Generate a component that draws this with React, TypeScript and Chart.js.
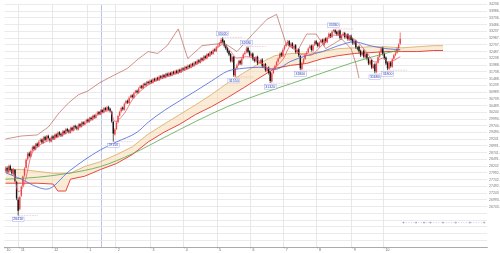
import React, { useEffect, useRef } from 'react';
import { Chart, registerables } from 'chart.js';
Chart.register(...registerables);

// ---- candle data (daily) ----
const OPEN = [
28080,28180,28020,28250,28120,27950,28100,27650,27000,26650,
27150,27520,27900,28180,28500,28720,28600,28830,28970,28860,
29080,28970,29170,29230,29100,29330,29200,29370,29260,29160,
29350,29240,29420,29310,29500,29440,29360,29540,29440,29620,
29570,29480,29670,29560,29740,29700,29600,29800,29700,29870,
29780,29890,29970,29880,30040,29960,30120,30030,30170,30250,
30160,30320,30230,30400,30310,30440,30370,30260,29880,29420,
29620,29870,30120,30270,30420,30330,30570,30670,30580,30800,
30870,30780,30970,31040,30960,31140,31220,31130,31300,31230,
31370,31300,31420,31330,31480,31400,31520,31430,31580,31500,
31620,31530,31670,31580,31700,31600,31740,31660,31780,31680,
31820,31730,31870,31800,31920,31850,31980,31900,32040,31960,
32100,32030,32170,32080,32240,32160,32320,32230,32400,32320,
32480,32400,32570,32500,32680,32730,32800,32950,32880,32720,
32630,32510,32400,32120,32300,31580,31880,32000,32150,32020,
32250,32400,32470,32630,32500,32320,32420,32250,32130,32300,
32080,32070,32200,31920,32030,31770,31900,31730,31380,31700,
31850,31970,32120,32250,32430,32320,32580,32700,32800,32880,
32700,32800,32630,32730,32450,32580,32320,31840,32080,32220,
32400,32470,32630,32710,32530,32750,32880,32800,32680,32840,
32930,32730,32980,32840,33030,33130,33030,33250,33280,33230,
33100,33270,32970,33100,33180,33000,33130,32930,33080,32950,
32780,32890,32630,32680,32520,32370,32530,32280,32400,32250,
32020,32180,31880,32020,31730,32080,32300,32470,32630,32420,
32270,32080,31850,32100,31930,32230,32370,32450,32620,32780
];
const HIGH = [
28220,28240,28290,28300,28160,28180,28140,27700,27080,27150,
27530,27900,28200,28530,28760,28780,28850,29000,29010,29100,
29120,29200,29270,29270,29350,29370,29400,29410,29300,29380,
29390,29450,29460,29530,29540,29480,29570,29580,29650,29660,
29610,29700,29710,29770,29780,29740,29830,29840,29900,29910,
29920,30000,30010,30070,30080,30150,30160,30200,30280,30290,
30350,30360,30430,30440,30470,30480,30410,30300,29920,29650,
29900,30150,30300,30450,30460,30600,30700,30710,30830,30900,
30910,31000,31070,31080,31170,31250,31260,31330,31340,31400,
31410,31450,31460,31510,31520,31550,31560,31610,31620,31650,
31660,31700,31710,31730,31740,31770,31780,31810,31820,31850,
31860,31900,31910,31950,31960,32010,32020,32070,32080,32130,
32140,32200,32210,32270,32280,32350,32360,32430,32440,32510,
32520,32600,32610,32700,32770,32840,33000,33020,32920,32760,
32670,32550,32440,32340,32330,31900,32040,32170,32190,32280,
32430,32510,32680,32670,32540,32450,32460,32290,32330,32340,
32150,32220,32240,32060,32070,31920,31940,31770,31730,31870,
32000,32150,32280,32450,32480,32610,32730,32840,32920,32920,
32830,32840,32750,32770,32600,32620,32360,32100,32250,32430,
32510,32650,32740,32750,32770,32910,32920,32840,32870,32960,
32970,33000,33020,33050,33200,33180,33280,33330,33320,33270,
33300,33310,33120,33210,33220,33150,33170,33100,33120,32990,
32920,32930,32680,32720,32560,32500,32570,32430,32440,32290,
32200,32220,32030,32060,32100,32330,32500,32660,32670,32460,
32310,32120,32130,32140,32250,32400,32480,32650,32800,33200
];
const LOW = [
28020,27990,27980,28040,27920,27900,27640,26980,26410,26600,
27100,27480,27850,28150,28450,28560,28570,28780,28820,28830,
28930,28940,29120,29060,29070,29170,29160,29230,29120,29130,
29210,29210,29280,29280,29370,29320,29330,29410,29410,29500,
29450,29450,29530,29530,29630,29570,29570,29670,29670,29750,
29750,29850,29850,29850,29930,29930,30000,30000,30130,30130,
30130,30200,30200,30280,30280,30300,30230,29850,29150,29380,
29580,29830,30080,30230,30300,30300,30530,30550,30550,30760,
30750,30750,30930,30930,30930,31100,31100,31100,31200,31200,
31270,31270,31300,31300,31370,31370,31400,31400,31470,31470,
31500,31500,31550,31550,31570,31570,31630,31630,31650,31650,
31700,31700,31770,31770,31820,31820,31870,31870,31930,31930,
32000,32000,32050,32050,32130,32130,32200,32200,32290,32290,
32370,32370,32470,32470,32630,32680,32760,32790,32640,32550,
32430,32320,32090,32080,31550,31540,31830,31960,31990,31980,
32200,32350,32430,32420,32290,32280,32160,32090,32090,31990,
32040,32030,31890,31880,31740,31730,31640,31320,31340,31660,
31800,31930,32080,32210,32290,32280,32530,32650,32750,32660,
32650,32590,32590,32420,32410,32290,31800,31800,32030,32180,
32350,32430,32580,32490,32490,32700,32720,32640,32640,32790,
32790,32690,32800,32800,32980,32990,32990,33200,33140,33070,
33060,32940,32930,33050,32970,32960,32890,32890,32860,32740,
32740,32590,32540,32440,32290,32330,32240,32240,32170,31990,
31980,31840,31840,31680,31700,32040,32260,32430,32340,32190,
31990,31800,31810,31890,31890,32190,32320,32410,32580,32740
];
const CLOSE = [
28150,28050,28230,28100,27980,28120,27700,27050,26590,27100,
27480,27860,28150,28480,28700,28620,28800,28950,28880,29050,
28990,29150,29210,29120,29300,29220,29350,29280,29180,29330,
29260,29400,29330,29480,29420,29380,29520,29460,29600,29550,
29500,29650,29580,29720,29680,29620,29780,29720,29850,29800,
29870,29950,29900,30020,29980,30100,30050,30150,30230,30180,
30300,30250,30380,30330,30420,30350,30280,29900,29450,29600,
29850,30100,30250,30400,30350,30550,30650,30600,30780,30850,
30800,30950,31020,30980,31120,31200,31150,31280,31250,31350,
31320,31400,31350,31460,31420,31500,31450,31560,31520,31600,
31550,31650,31600,31680,31620,31720,31680,31760,31700,31800,
31750,31850,31820,31900,31870,31960,31920,32020,31980,32080,
32050,32150,32100,32220,32180,32300,32250,32380,32340,32460,
32420,32550,32520,32650,32710,32780,32920,32850,32700,32610,
32490,32380,32150,32290,31620,31850,31980,32120,32050,32230,
32380,32450,32600,32480,32350,32400,32220,32150,32280,32050,
32100,32170,31950,32010,31800,31870,31700,31400,31680,31820,
31950,32100,32230,32400,32350,32560,32680,32780,32850,32720,
32780,32650,32700,32480,32550,32350,31870,32050,32200,32380,
32450,32600,32680,32550,32720,32850,32780,32700,32820,32900,
32850,32950,32860,33000,33150,33050,33230,33290,33200,33130,
33250,33000,33070,33150,33030,33100,32950,33050,32920,32800,
32870,32650,32600,32500,32350,32450,32300,32380,32230,32050,
32150,31900,31980,31760,32050,32280,32450,32600,32400,32250,
32050,31870,32080,31950,32200,32350,32420,32600,32750,32960
];

// ---- indicator lines (read at sparse days) ----
const TENKAN_X = [0,5,8,12,16,20,30,40,50,60,66,69,75,80,90,100,110,120,130,137,142,146,152,160,167,175,180,186,192,200,207,215,222,228,233,238,242,249];
const TENKAN_Y = [28100,28000,27300,27600,28600,28950,29250,29520,29800,30200,30300,29900,30200,30700,31250,31520,31720,32000,32400,32750,32500,32250,32300,32150,31850,32200,32700,32400,32350,32750,33100,33100,32850,32450,32100,32250,32100,32300];

const KIJUN_X = [0,10,20,26,40,50,60,70,83,90,100,110,120,130,140,150,160,170,180,190,200,210,220,230,240,249];
const KIJUN_Y = [28000,27760,27470,27390,28050,28480,28850,29140,29500,29870,30300,30670,31030,31400,31760,31870,31910,31830,32130,32340,32490,32710,32850,32710,32600,32560];

const UPPER_X = [0,10,20,27,34,40,46,52,59,65,71,77,84,90,96,102,109,115,124,134,137,146,156,165,171,177,184,190,196,202,212,218,221,223];
const UPPER_Y = [29250,29360,29400,29690,30230,30600,30890,31030,31320,31510,31690,31870,32230,32490,32420,32710,33330,32230,32710,32780,32850,32490,33140,33690,33870,32780,32490,33140,33140,32600,32960,32600,32050,31510];

const MA_X = [0,20,40,60,80,100,120,140,160,180,200,220,240,249];
const MA_Y = [27760,27830,27980,28230,28700,29300,29900,30450,30900,31300,31700,32100,32430,32560];

const CLOUD_X = [0,10,20,30,33,38,41,50,60,70,80,90,100,110,120,130,140,150,160,170,180,190,200,210,220,230,240,250,260,270,276];
const SENKOU_A = [28120,28120,28050,27980,27980,27980,27980,28230,28410,28670,28960,29430,29800,30160,30520,30900,31320,31690,32050,32340,32420,32420,32490,32600,32630,32670,32670,32630,32670,32710,32710];
const SENKOU_B = [27610,27610,27610,27580,27320,27320,27760,27870,28120,28340,28670,29140,29500,29800,30160,30450,30780,31140,31510,31870,31980,32050,32230,32340,32420,32450,32490,32490,32490,32530,32530];

const REF_X = [251,259,264,268,276,284,293,302];
const REF_LEVEL = 26150;

// ---- annotations ----
const LABEL_IDX = [8,68,137,144,152,167,186,207,233,241];
const LABEL_VAL = [26410,29150,33020,31550,32680,31320,31800,33330,31680,31800];
const LABEL_POS = ['below','below','above','below','above','below','below','above','below','below'];

// ---- axes ----
const MONTH_IDX = [-0.6,8.5,29.5,51.5,69.5,91.5,112.5,133.5,154.5,175.5,196.5,218.5,238.5];
const MONTH_LBL = ['10','11','12','1','2','3','4','5','6','7','8','9','10'];
const BLUE_LINE_IDX = 60.5;
const Y_MIN = 25245;
const Y_MAX = 34236;
const Y_STEP = 250;
const Y_LABEL_FLOOR = 26500;
const X_MIN = -0.625;
const X_MAX = 303.75;

const FONT = '"Liberation Sans", Arial, sans-serif';

const pts = (xs: number[], ys: number[]) => xs.map((x, i) => ({ x, y: ys[i] }));

const candlePlugin = {
  id: 'candles',
  afterDatasetDraw(chart: any, args: any) {
    if (args.index !== 4) return;
    const { ctx, chartArea } = chart;
    const x = chart.scales.x;
    const y = chart.scales.y;
    ctx.save();
    ctx.beginPath();
    ctx.rect(chartArea.left, chartArea.top, chartArea.width, chartArea.height);
    ctx.clip();
    for (let i = 0; i < CLOSE.length; i++) {
      const px = x.getPixelForValue(i);
      const o = y.getPixelForValue(OPEN[i]);
      const c = y.getPixelForValue(CLOSE[i]);
      const h = y.getPixelForValue(HIGH[i]);
      const l = y.getPixelForValue(LOW[i]);
      const up = CLOSE[i] >= OPEN[i];
      const col = up ? '#ec4545' : '#151515';
      ctx.strokeStyle = col;
      ctx.lineWidth = 0.7;
      ctx.beginPath();
      ctx.moveTo(px, h);
      ctx.lineTo(px, l);
      ctx.stroke();
      const top = Math.min(o, c);
      const hg = Math.max(Math.abs(c - o), 0.8);
      ctx.fillStyle = col;
      ctx.fillRect(px - 0.7, top, 1.4, hg);
    }
    ctx.restore();
  },
};

const labelPlugin = {
  id: 'hiLoLabels',
  afterDatasetsDraw(chart: any) {
    const { ctx } = chart;
    const x = chart.scales.x;
    const y = chart.scales.y;
    ctx.save();
    ctx.font = `3.5px ${FONT}`;
    ctx.textAlign = 'center';
    ctx.textBaseline = 'middle';
    LABEL_IDX.forEach((idx, k) => {
      const px = x.getPixelForValue(idx);
      const py = y.getPixelForValue(LABEL_VAL[k]);
      const txt = String(LABEL_VAL[k]);
      const w = ctx.measureText(txt).width + 2;
      const h = 4.5;
      const ty = LABEL_POS[k] === 'above' ? py - 1.5 - h : py + 1.5;
      ctx.save();
      ctx.setLineDash([0.8, 0.8]);
      ctx.strokeStyle = '#d98a9a';
      ctx.lineWidth = 0.5;
      ctx.beginPath();
      ctx.moveTo(px + 1, py);
      ctx.lineTo(px + 20, py);
      ctx.stroke();
      ctx.restore();
      ctx.fillStyle = 'rgba(255,255,255,0.9)';
      ctx.fillRect(px - w / 2, ty, w, h);
      ctx.strokeStyle = '#8d97e0';
      ctx.lineWidth = 0.4;
      ctx.strokeRect(px - w / 2, ty, w, h);
      ctx.fillStyle = '#3040b8';
      ctx.fillText(txt, px, ty + h / 2);
    });
    ctx.restore();
  },
};

const monthLabelPlugin = {
  id: 'monthLabels',
  afterDraw(chart: any) {
    const { ctx, chartArea } = chart;
    const x = chart.scales.x;
    ctx.save();
    ctx.font = `3.5px ${FONT}`;
    ctx.fillStyle = '#666';
    ctx.textAlign = 'left';
    ctx.textBaseline = 'middle';
    ctx.strokeStyle = '#888';
    ctx.lineWidth = 0.5;
    MONTH_IDX.forEach((idx, k) => {
      const px = x.getPixelForValue(idx);
      ctx.beginPath();
      ctx.moveTo(px + 0.5, chartArea.bottom);
      ctx.lineTo(px + 0.5, chartArea.bottom + 1.5);
      ctx.stroke();
      ctx.fillText(MONTH_LBL[k], Math.max(px + 2, 1), chartArea.bottom + 3.5);
    });
    ctx.restore();
  },
};

export default function App() {
  const ref = useRef<HTMLCanvasElement | null>(null);
  useEffect(() => {
    document.body.style.margin = '0';
    if (!ref.current) return;
    const lineBase = {
      type: 'line' as const,
      pointRadius: 0,
      borderWidth: 0.8,
      fill: false,
      cubicInterpolationMode: 'monotone' as const,
    };
    const chart = new Chart(ref.current, {
      type: 'line',
      data: {
        datasets: [
          { ...lineBase, label: 'tenkan', data: pts(TENKAN_X, TENKAN_Y), borderColor: '#ee5a6e' },
          { ...lineBase, label: 'kijun', data: pts(KIJUN_X, KIJUN_Y), borderColor: '#4a63d8' },
          { ...lineBase, label: 'upper', data: pts(UPPER_X, UPPER_Y), borderColor: '#b0493f', borderWidth: 0.6, cubicInterpolationMode: 'default', tension: 0 },
          { ...lineBase, label: 'ma', data: pts(MA_X, MA_Y), borderColor: '#58a84a' },
          {
            ...lineBase,
            label: 'ref',
            data: REF_X.map((x) => ({ x, y: REF_LEVEL })),
            borderColor: '#9aa0c0',
            borderDash: [1, 1.5],
            borderWidth: 0.5,
            pointRadius: 1,
            pointStyle: 'cross',
            pointBorderWidth: 0.5,
            pointBorderColor: '#8088b0',
          },
          { ...lineBase, label: 'senkouA', data: pts(CLOUD_X, SENKOU_A), borderColor: '#d9a860', cubicInterpolationMode: 'default', tension: 0 },
          {
            ...lineBase,
            label: 'senkouB',
            data: pts(CLOUD_X, SENKOU_B),
            borderColor: '#e8473f',
            borderWidth: 1,
            cubicInterpolationMode: 'default',
            tension: 0,
            fill: '-1',
            backgroundColor: 'rgba(244, 212, 165, 0.45)',
          },
        ],
      },
      options: {
        animation: false,
        responsive: true,
        maintainAspectRatio: false,
        devicePixelRatio: 1,
        layout: { padding: 0 },
        plugins: { legend: { display: false }, tooltip: { enabled: false } },
        scales: {
          x: {
            type: 'linear',
            min: X_MIN,
            max: X_MAX,
            afterBuildTicks: (s: any) => {
              s.ticks = [...MONTH_IDX.slice(1), BLUE_LINE_IDX].map((v) => ({ value: v }));
            },
            afterFit: (s: any) => {
              s.height = 6;
            },
            ticks: { display: false },
            grid: {
              color: (c: any) => (c.tick && c.tick.value === BLUE_LINE_IDX ? '#aab3ea' : '#e2e2e2'),
              lineWidth: 0.8,
              drawTicks: false,
            },
            border: { color: '#9a9a9a', width: 0.8 },
          },
          y: {
            type: 'linear',
            position: 'right',
            min: Y_MIN,
            max: Y_MAX,
            afterFit: (s: any) => {
              s.width = 13;
            },
            ticks: {
              stepSize: Y_STEP,
              includeBounds: false,
              autoSkip: false,
              padding: 2,
              color: '#777',
              font: { size: 3.5, family: FONT },
              callback: (v: any) => (Number(v) >= Y_LABEL_FLOOR ? String(v) : ''),
            },
            grid: { color: '#e6e6e6', lineWidth: 0.8, drawTicks: false },
            border: { display: false },
          },
        },
      },
      plugins: [candlePlugin, labelPlugin, monthLabelPlugin],
    } as any);
    return () => chart.destroy();
  }, []);
  return (
    <div style={{ width: 500, height: 253, position: 'relative', background: '#fff' }}>
      <canvas ref={ref} />
    </div>
  );
}
